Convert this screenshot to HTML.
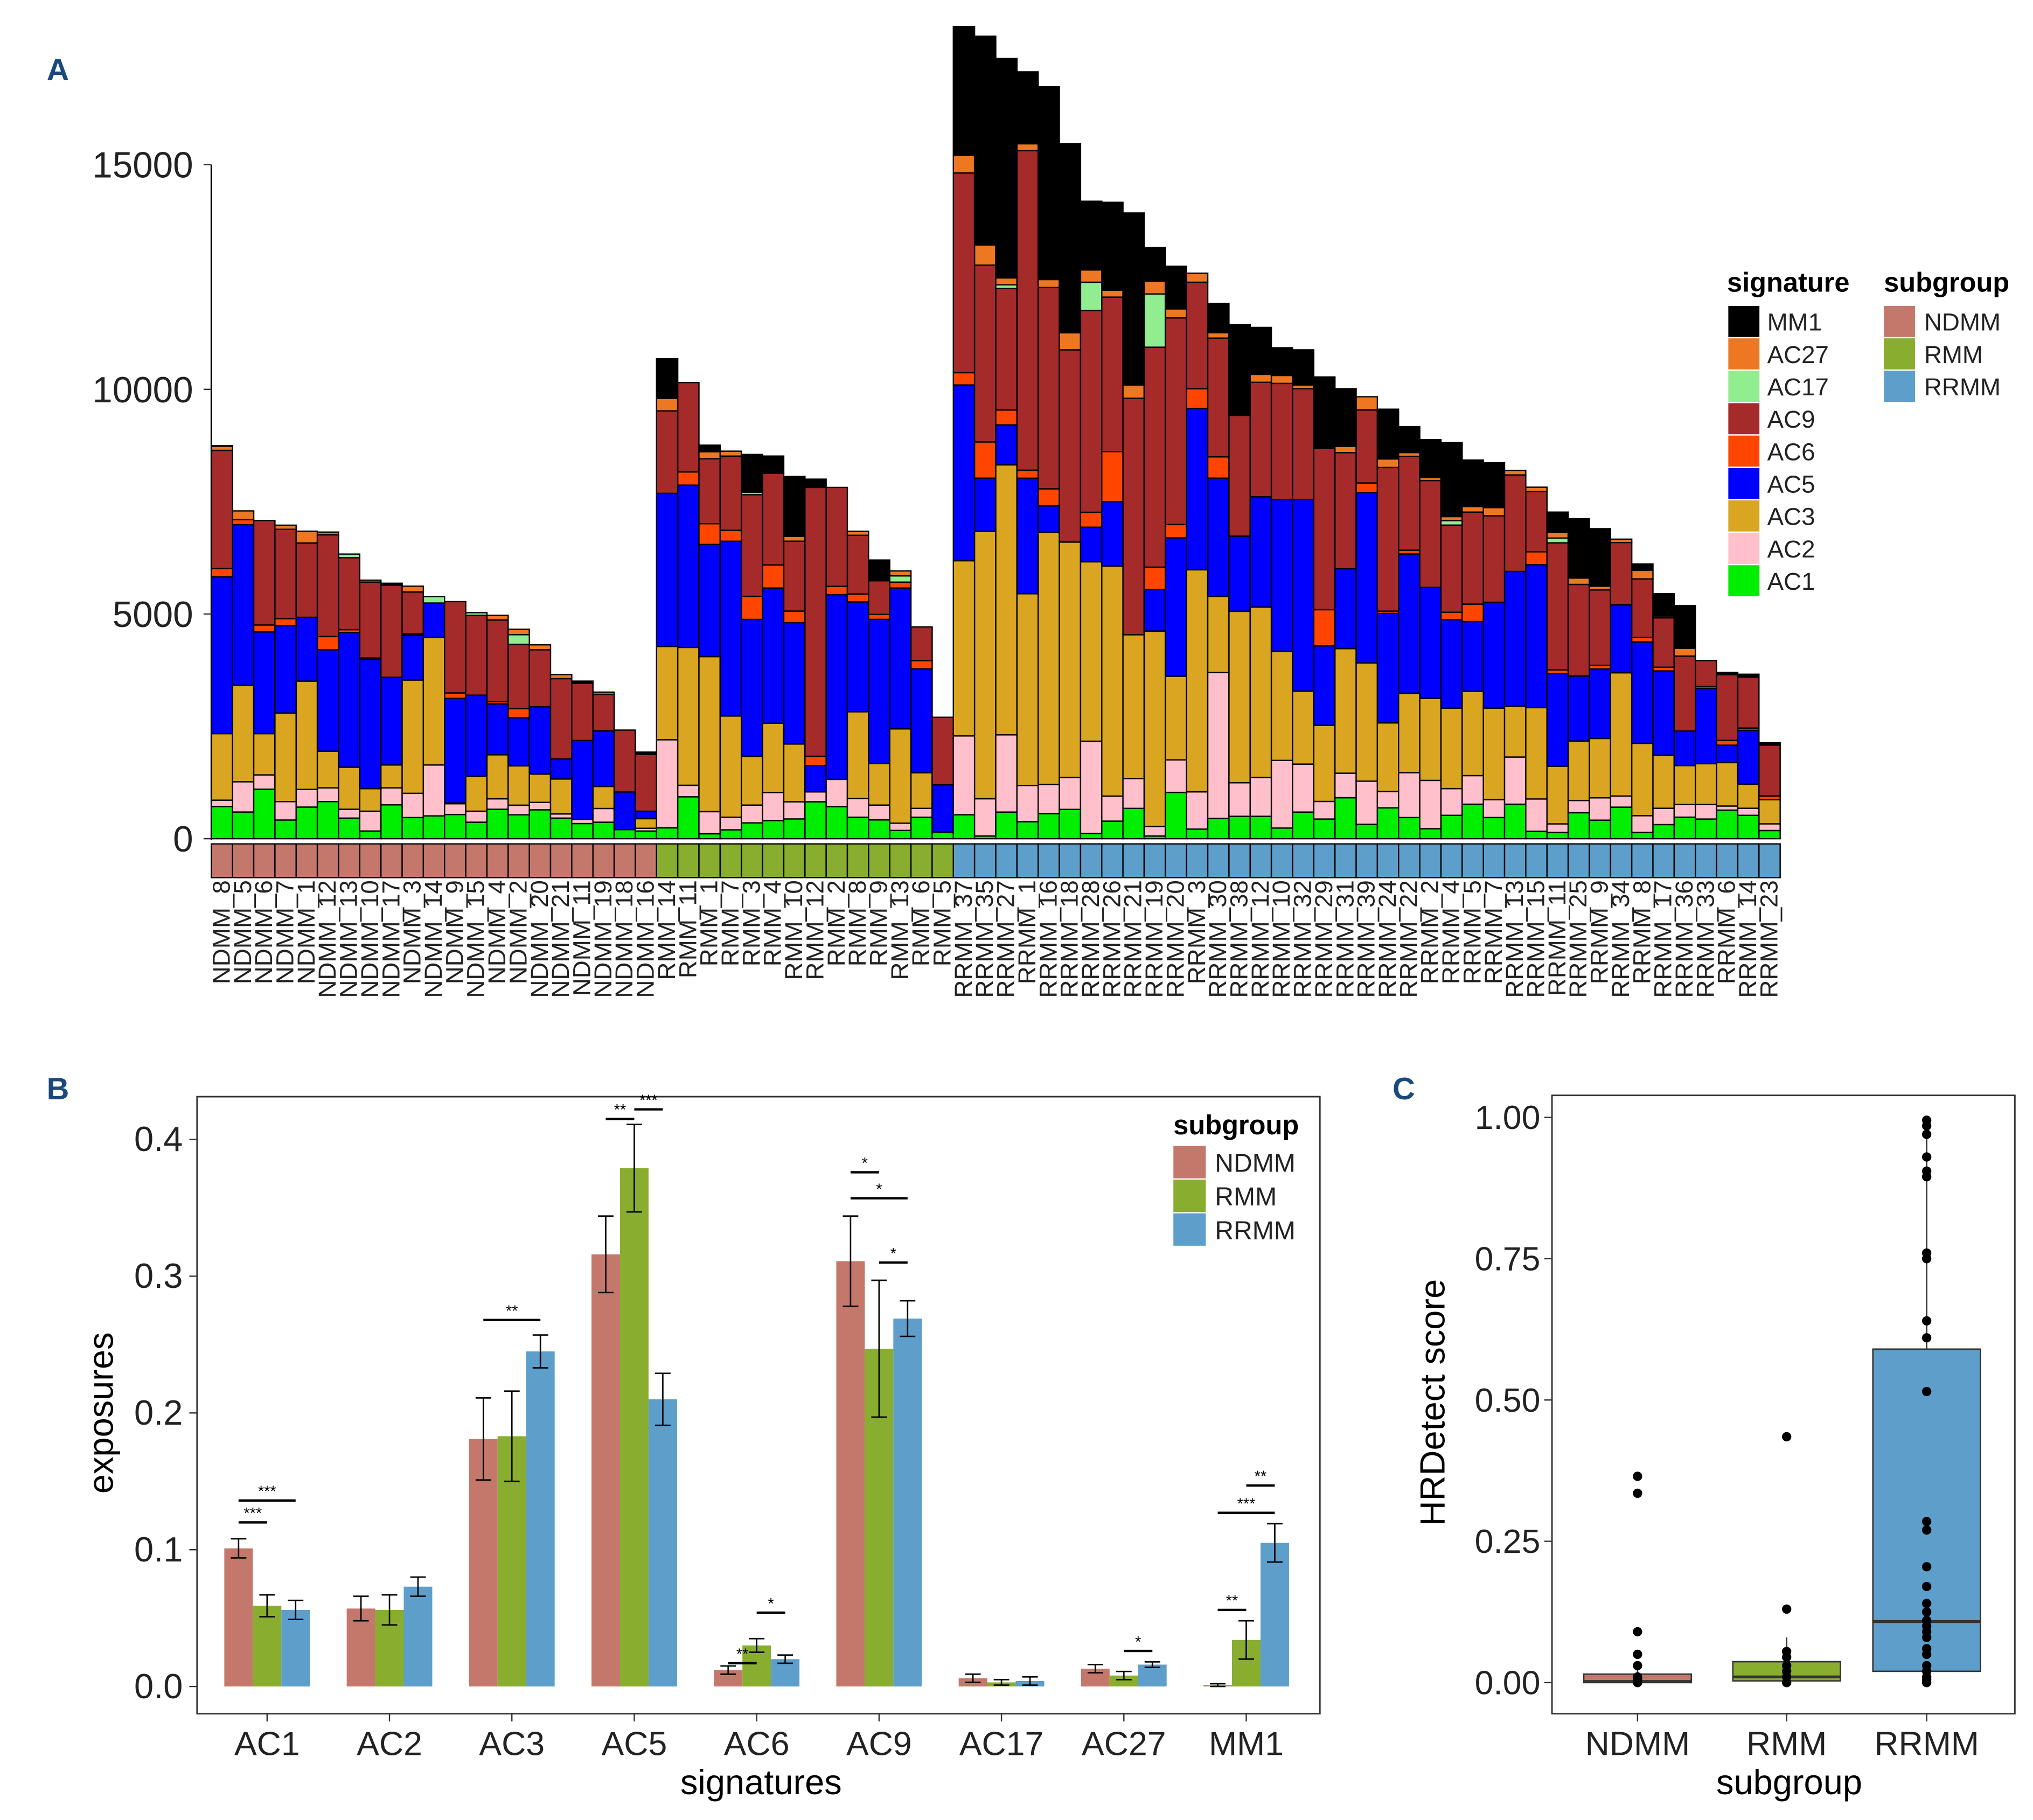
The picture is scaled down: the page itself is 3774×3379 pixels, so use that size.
<!DOCTYPE html>
<html><head><meta charset="utf-8">
<style>
html,body{margin:0;padding:0;background:#fff;}
svg{display:block;font-family:"Liberation Sans",sans-serif;}
</style></head>
<body>
<svg id="fig" xmlns="http://www.w3.org/2000/svg" width="3774" height="3379" viewBox="0 0 1568 1404" preserveAspectRatio="none">
<rect x="0" y="0" width="1568" height="1404" fill="#fff"/>
<g id="pA"></g>
<g id="pB"></g>
<g id="pC"></g>
</svg>
<script>
// ---------- Panel A data ----------
const samples = ["NDMM_8","NDMM_5","NDMM_6","NDMM_7","NDMM_1","NDMM_12","NDMM_13","NDMM_10","NDMM_17","NDMM_3","NDMM_14","NDMM_9","NDMM_15","NDMM_4","NDMM_2","NDMM_20","NDMM_21","NDMM_11","NDMM_19","NDMM_18","NDMM_16",
"RMM_14","RMM_11","RMM_1","RMM_7","RMM_3","RMM_4","RMM_10","RMM_12","RMM_2","RMM_8","RMM_9","RMM_13","RMM_6","RMM_5",
"RRMM_37","RRMM_35","RRMM_27","RRMM_1","RRMM_16","RRMM_18","RRMM_28","RRMM_26","RRMM_21","RRMM_19","RRMM_20","RRMM_3","RRMM_30","RRMM_38","RRMM_12","RRMM_10","RRMM_32","RRMM_29","RRMM_31","RRMM_39",
"RRMM_24","RRMM_22","RRMM_2","RRMM_4","RRMM_5","RRMM_7","RRMM_13","RRMM_15","RRMM_11","RRMM_25","RRMM_9","RRMM_34","RRMM_8","RRMM_17","RRMM_36","RRMM_33","RRMM_6","RRMM_14","RRMM_23"];
const AC1 = [716,594,1102,416,704,826,459,171,753,471,508,539,367,655,532,643,459,337,367,202,171, 242,932,110,198,352,404,440,822,712,477,418,184,477,147, 533,59,593,379,557,652,119,391,675,59,1031,213,450,498,498,237,593,438,912,320, 686,471,223,520,768,471,768,165,140,578,413,702,140,314,479,438,636,520,182];
const AC2 = [141,673,318,410,392,306,196,441,379,539,1132,239,245,233,214,165,92,92,306,0,61, 1960,257,492,279,396,624,382,220,609,418,330,161,198,0, 1754,830,1718,806,652,711,2050,557,664,213,723,830,3247,747,865,1505,1067,391,545,960, 363,999,1074,595,636,396,1049,719,190,273,496,248,372,363,281,322,91,157,149];
const AC3 = [1481,2148,918,1971,2411,814,936,502,508,2521,2840,18,777,979,875,630,777,0,490,0,214, 2077,3068,3450,2253,1086,1541,1285,0,0,1930,925,2099,793,0, 3899,5949,6008,4266,5605,5238,3993,5119,3200,4349,1860,4941,1695,3816,3792,2429,1623,1695,2773,2631, 1528,1768,1825,1792,1875,2040,1132,2032,1280,1322,1322,2742,1611,1181,867,909,966,537,537];
const AC5 = [3488,3574,2264,1946,1420,2258,2999,2876,1952,998,765,2326,1805,1132,1071,1499,447,1756,1236,838,165, 3406,3611,2496,3890,3046,3009,2701,587,4110,2444,3208,3134,2312,1050, 3911,1185,889,2571,593,0,770,1434,0,924,3081,3591,2631,1671,2453,3377,4266,1766,1778,3792, 2437,3098,2470,1966,1553,2354,2998,3180,2065,1446,1545,1512,2255,1875,768,1677,388,1198,0];
const AC6 = [184,110,153,153,0,294,61,31,0,31,0,122,0,49,202,0,0,0,0,0,0, 0,294,462,242,514,514,257,206,184,176,110,132,184,0, 273,806,332,178,379,0,332,1114,0,498,296,438,474,0,0,0,0,806,0,213, 50,83,0,165,388,0,0,289,83,0,83,0,99,83,0,41,107,50,83];
const AC9 = [2632,0,2326,1989,1652,2264,1603,1689,2050,930,0,2032,1775,1818,1432,1267,1787,1273,814,1377,1267, 1835,1989,1446,1652,2261,2041,1556,5982,2202,1307,749,0,749,1505, 4444,3934,2702,7110,4479,4278,4491,3437,5261,4894,4598,2370,2643,2690,2548,2583,2465,3591,2583,1623, 3197,2090,2379,1941,2048,1925,2148,1338,2825,2040,1677,1388,1305,1099,1669,578,1462,1132,1132];
const AC17 = [0,0,0,0,0,0,80,0,0,0,141,0,61,0,214,0,0,0,0,0,0, 0,0,0,0,51,0,0,0,0,0,0,139,0,0, 0,0,83,0,0,0,628,0,0,1185,0,0,0,0,0,0,0,0,0,0, 0,0,0,99,0,0,0,0,107,0,0,0,0,0,0,0,0,0,0];
const AC27 = [92,196,0,92,263,61,0,43,0,129,0,0,0,104,122,110,92,0,49,0,0, 279,0,154,110,0,0,110,0,0,88,0,110,0,0, 391,450,154,154,178,379,273,154,296,284,201,201,119,0,178,178,83,0,142,296, 190,83,66,91,124,182,99,99,124,140,83,74,190,41,173,0,0,0,0];
const MM1 = [12,0,0,0,0,0,0,0,43,0,0,0,0,0,0,0,0,49,0,0,49, 881,0,147,0,844,382,1329,184,0,0,462,0,0,0, 2868,4645,4882,1600,4290,4207,1529,1955,3828,747,948,0,652,2015,1043,616,782,1588,1280,0, 1107,578,843,1644,1033,999,0,0,454,1322,1280,0,140,496,950,0,50,66,50];
const sigNames = ["AC1","AC2","AC3","AC5","AC6","AC9","AC17","AC27","MM1"];
const yTicksA = [0,5000,10000,15000];

// ---------- Panel B data ----------
const sigsB = ["AC1","AC2","AC3","AC5","AC6","AC9","AC17","AC27","MM1"];
const ndmmMean = [0.101,0.057,0.181,0.316,0.012,0.311,0.006,0.013,0.001];
const ndmmErr  = [0.007,0.009,0.030,0.028,0.003,0.033,0.003,0.003,0.001];
const rmmMean  = [0.059,0.056,0.183,0.379,0.030,0.247,0.003,0.008,0.034];
const rmmErr   = [0.008,0.011,0.033,0.032,0.005,0.050,0.002,0.003,0.014];
const rrmmMean = [0.056,0.073,0.245,0.210,0.020,0.269,0.004,0.016,0.105];
const rrmmErr  = [0.007,0.007,0.012,0.019,0.003,0.013,0.003,0.002,0.014];
const yTicksB = [0,0.1,0.2,0.3,0.4];
const sigCat = [0,0,2,3,3,4,4,5,5,5,7,8,8,8];
const sigA   = [0,0,0,0,1,0,1,0,0,1,1,0,0,1];
const sigB   = [1,2,2,1,2,1,2,1,2,2,2,1,2,2];
const sigY   = [0.120,0.136,0.268,0.415,0.422,0.017,0.054,0.376,0.357,0.310,0.026,0.056,0.127,0.147];
const sigLab = ["***","***","**","**","***","**","*","*","*","*","*","**","***","**"];

// ---------- Panel C data ----------
const groupsC = ["NDMM","RMM","RRMM"];
const q1C  = [0.0,0.003,0.02];
const medC = [0.002,0.01,0.108];
const q3C  = [0.015,0.037,0.59];
const wLoC = [0.0,0.0,0.0];
const wHiC = [0.03,0.08,1.0];
const ptsNDMM = [0.365,0.335,0.09,0.05,0.03,0.01,0.005,0.0];
const ptsRMM  = [0.435,0.13,0.055,0.045,0.03,0.02,0.01,0.0];
const ptsRRMM = [0.995,0.985,0.97,0.93,0.905,0.895,0.76,0.75,0.64,0.61,0.515,0.285,0.27,0.205,0.17,0.14,0.125,0.11,0.10,0.09,0.08,0.06,0.05,0.03,0.02,0.01,0.005,0.0];
const yTicksC = [0,0.25,0.5,0.75,1.0];

const NS="http://www.w3.org/2000/svg";
function mk(tag, attrs, parent){const e=document.createElementNS(NS,tag);for(const k in attrs)e.setAttribute(k,attrs[k]);parent.appendChild(e);return e;}
function txt(parent,x,y,s,size,anchor,extra){const t=mk('text',Object.assign({x:x,y:y,'font-size':size,'text-anchor':anchor||'start',fill:'#222'},extra||{}),parent);t.textContent=s;return t;}

const sigColors = {AC1:"#00ee00",AC2:"#ffc0cb",AC3:"#daa520",AC5:"#0000ff",AC6:"#ff4500",AC9:"#a52a2a",AC17:"#90ee90",AC27:"#ee7722",MM1:"#000000"};
const grpColors = {NDMM:"#c4786b",RMM:"#88ad2f",RRMM:"#5d9ecb"};
const sigSeries = [AC1,AC2,AC3,AC5,AC6,AC9,AC17,AC27,MM1];

// ===== Panel A =====
const pA=document.getElementById('pA');
const A_x0=163, A_bw=1210/samples.length, A_y0=647, A_k=0.034667;
function yA(v){return A_y0 - v*A_k;}
function xA(i){return A_x0 + i*A_bw;}
let lt=txt(pA,36,62,"A",24,'start',{'font-weight':'bold',fill:'#1a4a7a'});


for(let i=0;i<samples.length;i++){
  let cum=0;
  const bar=mk('g',{},pA);
  
  
  for(let s=0;s<sigSeries.length;s++){
    const v=sigSeries[s][i]; if(v<=0) continue;
    const r=mk('rect',{x:xA(i),y:yA(cum+v),width:A_bw,height:v*A_k,fill:sigColors[sigNames[s]],stroke:'#000','stroke-width':1},bar);
    
    
    cum+=v;
  }
  const g=samples[i].split('_')[0];
  const c=mk('rect',{x:xA(i),y:651,width:A_bw,height:26,fill:grpColors[g],stroke:'#000','stroke-width':1},pA);
  
  
  const cx=xA(i)+A_bw/2+6;
  const t=txt(pA,cx,679,samples[i],19,'end',{transform:'rotate(-90 '+cx+' 679)'});
  
  
}
let ax=mk('line',{x1:A_x0,y1:127,x2:A_x0,y2:648,stroke:'#000','stroke-width':1.2},pA);


yTicksA.forEach(v=>{
  const tk=mk('line',{x1:A_x0-6,y1:yA(v),x2:A_x0,y2:yA(v),stroke:'#333','stroke-width':1},pA);
  
  
  const t=txt(pA,A_x0-14,yA(v)+10,String(v),28,'end');
  
  
});
let lg=mk('g',{},pA);


let tt=txt(lg,1332,225,"signature",21,'start',{'font-weight':'bold',fill:'#000'});


const legOrder=["MM1","AC27","AC17","AC9","AC6","AC5","AC3","AC2","AC1"];
legOrder.forEach((n,j)=>{
  const y=236+j*25;
  const r=mk('rect',{x:1333,y:y,width:24,height:24,fill:sigColors[n]},lg);
  
  
  const t=txt(lg,1363,y+19,n,19,'start');
  
  
});
let lg2=mk('g',{},pA);


let tt2=txt(lg2,1453,225,"subgroup",21,'start',{'font-weight':'bold',fill:'#000'});


["NDMM","RMM","RRMM"].forEach((n,j)=>{
  const y=236+j*25;
  const r=mk('rect',{x:1453,y:y,width:24,height:24,fill:grpColors[n]},lg2);
  
  
  const t=txt(lg2,1484,y+19,n,19,'start');
  
  
});

// ===== Panel B =====
const pB=document.getElementById('pB');
const B_y0=1301, B_k=1055, B_c0=206, B_step=94.4, B_bw=22;
function yB(v){return B_y0 - v*B_k;}
function xB(c,g){return B_c0 + c*B_step + (g-1)*B_bw;}
let lb=txt(pB,36,848,"B",24,'start',{'font-weight':'bold',fill:'#1a4a7a'});


let frB=mk('rect',{x:152,y:846,width:866,height:476,fill:'none',stroke:'#333','stroke-width':1.2},pB);


const meansB=[ndmmMean,rmmMean,rrmmMean], errsB=[ndmmErr,rmmErr,rrmmErr], gNames=["NDMM","RMM","RRMM"];
for(let c=0;c<sigsB.length;c++){
  for(let g=0;g<3;g++){
    const m=meansB[g][c], e=errsB[g][c], cx=xB(c,g);
    const r=mk('rect',{x:cx-B_bw/2,y:yB(m),width:B_bw,height:m*B_k,fill:grpColors[gNames[g]]},pB);
    
    
    const eb=mk('path',{d:`M${cx-6},${yB(m+e)}H${cx+6}M${cx},${yB(m+e)}V${yB(m-e)}M${cx-6},${yB(m-e)}H${cx+6}`,stroke:'#000','stroke-width':1.1,fill:'none'},pB);
    
    
  }
  const xl=txt(pB,B_c0+c*B_step,1354,sigsB[c],26,'middle');
  
  
  const xt=mk('line',{x1:B_c0+c*B_step,y1:1322,x2:B_c0+c*B_step,y2:1328,stroke:'#333'},pB);
  
  
}
for(let s=0;s<sigCat.length;s++){
  const x1=xB(sigCat[s],sigA[s]), x2=xB(sigCat[s],sigB[s]), y=yB(sigY[s]);
  const l=mk('line',{x1:x1,y1:y,x2:x2,y2:y,stroke:'#000','stroke-width':1.8},pB);
  
  
  const t=txt(pB,(x1+x2)/2,y-3,sigLab[s],12,'middle',{fill:'#000'});
  
  
}
yTicksB.forEach(v=>{
  const tk=mk('line',{x1:146,y1:yB(v),x2:152,y2:yB(v),stroke:'#333'},pB);
  
  
  const t=txt(pB,141,yB(v)+9,v.toFixed(1),27,'end');
  
  
});
let xtB=txt(pB,587,1384,"signatures",27,'middle',{fill:'#000'});


let ytB=txt(pB,87,1090,"exposures",27,'middle',{fill:'#000',transform:'rotate(-90 87 1090)'});


let lgB=mk('g',{},pB);


let ttB=txt(lgB,905,875,"subgroup",21,'start',{'font-weight':'bold',fill:'#000'});


gNames.forEach((n,j)=>{
  const y=884+j*26;
  const r=mk('rect',{x:905,y:y,width:25,height:25,fill:grpColors[n]},lgB);
  
  
  const t=txt(lgB,937,y+20,n,20,'start');
  
  
});

// ===== Panel C =====
const pC=document.getElementById('pC');
const C_y0=1298, C_k=436, C_c=[1263,1378,1486], C_bw=83;
function yC(v){return C_y0 - v*C_k;}
let lc=txt(pC,1074,848,"C",24,'start',{'font-weight':'bold',fill:'#1a4a7a'});


let frC=mk('rect',{x:1197,y:845,width:357,height:477,fill:'none',stroke:'#333','stroke-width':1.2},pC);


const ptsC=[ptsNDMM,ptsRMM,ptsRRMM];
for(let g=0;g<3;g++){
  const cx=C_c[g];
  const w=mk('line',{x1:cx,y1:yC(wHiC[g]),x2:cx,y2:yC(wLoC[g]),stroke:'#333','stroke-width':1.1},pC);
  
  
  const b=mk('rect',{x:cx-C_bw/2,y:yC(q3C[g]),width:C_bw,height:Math.max(1,(q3C[g]-q1C[g])*C_k),fill:grpColors[groupsC[g]],stroke:'#333','stroke-width':1.1},pC);
  
  
  const md=mk('line',{x1:cx-C_bw/2,y1:yC(medC[g]),x2:cx+C_bw/2,y2:yC(medC[g]),stroke:'#333','stroke-width':2.2},pC);
  
  
  ptsC[g].forEach(v=>{
    const p=mk('circle',{cx:cx,cy:yC(v),r:3.6,fill:'#000'},pC);
    
    
  });
  const t=txt(pC,cx,1354,groupsC[g],26,'middle');
  
  
  const xt=mk('line',{x1:cx,y1:1322,x2:cx,y2:1328,stroke:'#333'},pC);
  
  
}
yTicksC.forEach(v=>{
  const tk=mk('line',{x1:1191,y1:yC(v),x2:1197,y2:yC(v),stroke:'#333'},pC);
  
  
  const t=txt(pC,1188,yC(v)+9,v.toFixed(2),26,'end');
  
  
});
let xtC=txt(pC,1380,1384,"subgroup",27,'middle',{fill:'#000'});


let ytC=txt(pC,1114,1082,"HRDetect score",27,'middle',{fill:'#000',transform:'rotate(-90 1114 1082)'});


</script>
</body></html>
